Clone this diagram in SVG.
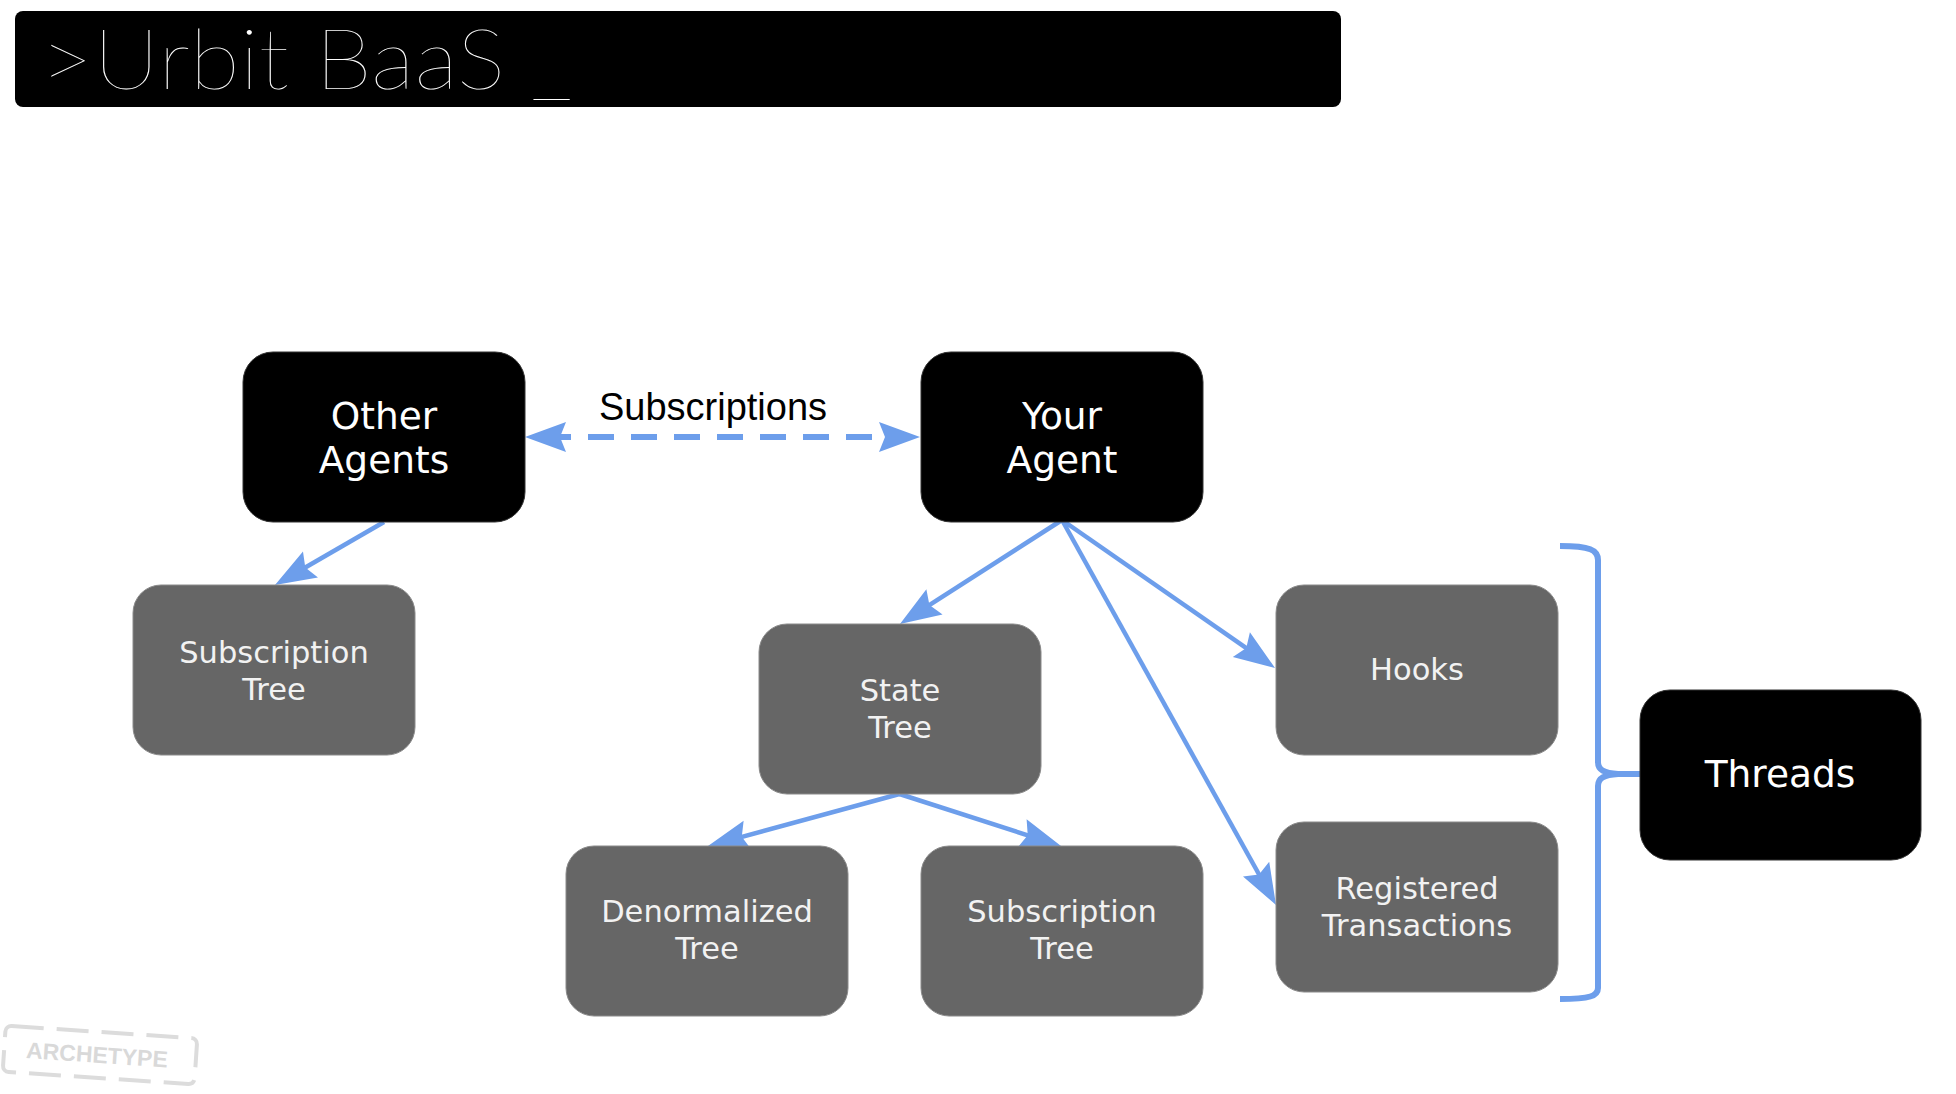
<svg xmlns="http://www.w3.org/2000/svg" width="1956" height="1094" viewBox="0 0 1956 1094">
<style>
.blk{fill:#000;stroke:#333;stroke-width:1}
.gry{fill:#666;stroke:#8a8a8a;stroke-width:1}
.bt{font-family:"DejaVu Sans","Open Sans",sans-serif;font-size:37.5px;fill:#fff;text-anchor:middle}
.gt{font-family:"DejaVu Sans","Open Sans",sans-serif;font-size:30.5px;fill:#f2f2f2;text-anchor:middle}
.conn{fill:none;stroke:#6d9eeb;stroke-width:4.5}
.dash{fill:none;stroke:#6d9eeb;stroke-width:6;stroke-dasharray:26 17}
.brace{fill:none;stroke:#6d9eeb;stroke-width:6;stroke-linejoin:round}
</style>
<defs>
<marker id="ah" markerUnits="userSpaceOnUse" viewBox="0 0 42 32" markerWidth="42" markerHeight="32" refX="22" refY="16" orient="auto-start-reverse">
<path d="M42,16 L1,1 L7,16 L1,31 Z" fill="#6d9eeb"/>
</marker>
</defs>
<rect width="1956" height="1094" fill="#fff"/>
<g id="title">
<rect x="15" y="11" width="1326" height="96" rx="8" fill="#000"/>
<text x="40" y="89" font-family="Lato,Roboto,sans-serif" font-weight="100" font-size="84" fill="#fff" textLength="532" lengthAdjust="spacingAndGlyphs">&gt;Urbit BaaS _</text>
</g>
<g id="connectors">
<path class="dash" d="M545,437 L900,437" marker-start="url(#ah)" marker-end="url(#ah)"/>
<path class="conn" d="M384,522 L292.3,575" marker-end="url(#ah)"/>
<path class="conn" d="M1062,520 L916.8,613.2" marker-end="url(#ah)"/>
<path class="conn" d="M1062,520 L1258.6,656.6" marker-end="url(#ah)"/>
<path class="conn" d="M1062,520 L1266.3,887.5" marker-end="url(#ah)"/>
<path class="conn" d="M899.5,794 L727.3,840.8" marker-end="url(#ah)"/>
<path class="conn" d="M899.5,794 L1042,839.9" marker-end="url(#ah)"/>
<path class="brace" d="M1560,546 C1590,546 1598,550 1598,560 L1598,762 C1598,770 1604,773 1618,774 L1640,774 M1618,774 C1604,775 1598,778 1598,786 L1598,988 C1598,996 1590,999 1560,999"/>
<text x="713" y="420" font-family="'Liberation Sans',Arial,sans-serif" font-size="38" fill="#000" text-anchor="middle">Subscriptions</text>
</g>
<g id="other-agents">
<rect class="blk" x="243" y="352" width="282" height="170" rx="30"/>
<text class="bt" x="384" y="429">Other<tspan x="384" dy="44">Agents</tspan></text>
</g>
<g id="your-agent">
<rect class="blk" x="921" y="352" width="282" height="170" rx="30"/>
<text class="bt" x="1062" y="429">Your<tspan x="1062" dy="44">Agent</tspan></text>
</g>
<g id="subscription-tree-left">
<rect class="gry" x="133" y="585" width="282" height="170" rx="28"/>
<text class="gt" x="274" y="663">Subscription<tspan x="274" dy="37">Tree</tspan></text>
</g>
<g id="state-tree">
<rect class="gry" x="759" y="624" width="282" height="170" rx="28"/>
<text class="gt" x="900" y="701">State<tspan x="900" dy="37">Tree</tspan></text>
</g>
<g id="hooks">
<rect class="gry" x="1276" y="585" width="282" height="170" rx="28"/>
<text class="gt" x="1417" y="680">Hooks</text>
</g>
<g id="registered-transactions">
<rect class="gry" x="1276" y="822" width="282" height="170" rx="28"/>
<text class="gt" x="1417" y="899">Registered<tspan x="1417" dy="37">Transactions</tspan></text>
</g>
<g id="denormalized-tree">
<rect class="gry" x="566" y="846" width="282" height="170" rx="28"/>
<text class="gt" x="707" y="922">Denormalized<tspan x="707" dy="37">Tree</tspan></text>
</g>
<g id="subscription-tree-right">
<rect class="gry" x="921" y="846" width="282" height="170" rx="28"/>
<text class="gt" x="1062" y="922">Subscription<tspan x="1062" dy="37">Tree</tspan></text>
</g>
<g id="threads">
<rect class="blk" x="1640" y="690" width="281" height="170" rx="30"/>
<text class="bt" x="1780" y="787">Threads</text>
</g>
<g id="archetype-logo" transform="rotate(3.85 100 1055)">
<rect x="4" y="1032" width="192" height="46" rx="6" fill="none" stroke="#dcdcdc" stroke-width="4" stroke-dasharray="32 13"/>
<text x="97" y="1063" font-family="'Liberation Sans',Arial,sans-serif" font-weight="bold" font-size="23" fill="#d9d9d9" text-anchor="middle">ARCHETYPE</text>
</g>
</svg>
